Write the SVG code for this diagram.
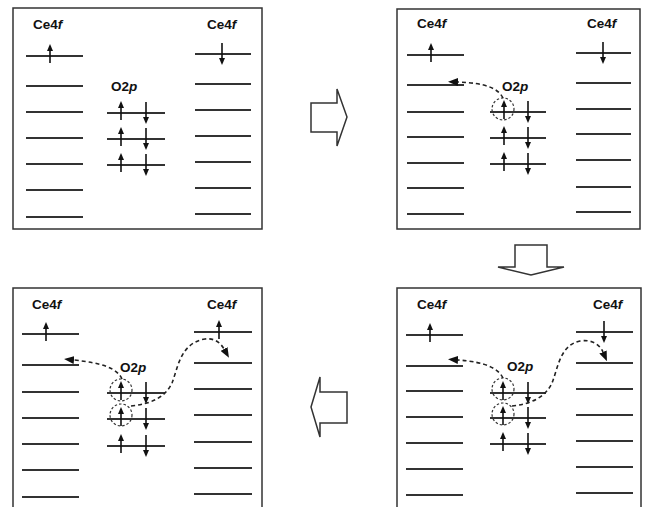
<svg xmlns="http://www.w3.org/2000/svg" xmlns:xlink="http://www.w3.org/1999/xlink" width="648" height="507" viewBox="0 0 648 507">
<style>
.box{fill:none;stroke:#333;stroke-width:1.5}
.lv{stroke:#333;stroke-width:2}
.sp line{stroke:#111;stroke-width:1.6}
.sp polygon{fill:#111}
.lbl{font-family:"Liberation Sans",Arial,sans-serif;font-size:13.5px;font-weight:bold;fill:#111}
.it{font-style:italic}
.hole{fill:none;stroke:#333;stroke-width:1.2;stroke-dasharray:2.5,2}
.tr{fill:none;stroke:#222;stroke-width:1.6;stroke-dasharray:4,3;marker-end:url(#ah)}
.blk{fill:#fff;stroke:#333;stroke-width:1.5;stroke-linejoin:miter}
</style>
<defs>
<marker id="ah" viewBox="0 0 10 8" refX="0" refY="4" markerWidth="10" markerHeight="8" markerUnits="userSpaceOnUse" orient="auto"><path d="M0,0 L10,4 L0,8 z" fill="#111"/></marker>
<g id="up" class="sp"><line x1="0" y1="7" x2="0" y2="-6"/><polygon points="0,-12 -3,-5 3,-5"/></g>
<g id="dn" class="sp"><line x1="0" y1="-11" x2="0" y2="4"/><polygon points="0,11 -3,4 3,4"/></g>
</defs>
<rect width="648" height="507" fill="#fff"/>

<g id="panel1">
<rect class="box" x="13" y="8" width="249" height="221"/>
<text class="lbl" x="33" y="29">Ce4<tspan class="it">f</tspan></text>
<text class="lbl" x="207" y="29">Ce4<tspan class="it">f</tspan></text>
<text class="lbl" x="111" y="91">O2<tspan class="it">p</tspan></text>
<g class="lv">
<line x1="26" y1="56" x2="83" y2="56"/><line x1="26" y1="86" x2="83" y2="86"/><line x1="26" y1="112" x2="83" y2="112"/><line x1="26" y1="138" x2="83" y2="138"/><line x1="26" y1="164" x2="83" y2="164"/><line x1="26" y1="190" x2="83" y2="190"/><line x1="26" y1="217" x2="83" y2="217"/>
<line x1="195" y1="54" x2="251" y2="54"/><line x1="195" y1="84" x2="251" y2="84"/><line x1="195" y1="110" x2="251" y2="110"/><line x1="195" y1="136" x2="251" y2="136"/><line x1="195" y1="162" x2="251" y2="162"/><line x1="195" y1="188" x2="251" y2="188"/><line x1="195" y1="214" x2="251" y2="214"/>
<line x1="107" y1="113" x2="165" y2="113"/><line x1="107" y1="139" x2="165" y2="139"/><line x1="107" y1="165" x2="165" y2="165"/>
</g>
<use xlink:href="#up" x="50" y="56"/>
<use xlink:href="#dn" x="222" y="54"/>
<use xlink:href="#up" x="121" y="113"/><use xlink:href="#dn" x="146" y="113"/>
<use xlink:href="#up" x="121" y="139"/><use xlink:href="#dn" x="146" y="139"/>
<use xlink:href="#up" x="121" y="165"/><use xlink:href="#dn" x="146" y="165"/>
</g>

<g id="panel2">
<rect class="box" x="397" y="9" width="243" height="220"/>
<text class="lbl" x="417" y="28">Ce4<tspan class="it">f</tspan></text>
<text class="lbl" x="587" y="28">Ce4<tspan class="it">f</tspan></text>
<text class="lbl" x="502" y="91">O2<tspan class="it">p</tspan></text>
<g class="lv">
<line x1="407" y1="55" x2="464" y2="55"/><line x1="407" y1="85" x2="464" y2="85"/><line x1="407" y1="112" x2="464" y2="112"/><line x1="407" y1="137" x2="464" y2="137"/><line x1="407" y1="163" x2="464" y2="163"/><line x1="407" y1="188" x2="464" y2="188"/><line x1="407" y1="214" x2="464" y2="214"/>
<line x1="576" y1="53" x2="631" y2="53"/><line x1="576" y1="83" x2="631" y2="83"/><line x1="576" y1="109" x2="631" y2="109"/><line x1="576" y1="134" x2="631" y2="134"/><line x1="576" y1="160" x2="631" y2="160"/><line x1="576" y1="187" x2="631" y2="187"/><line x1="576" y1="212" x2="631" y2="212"/>
<line x1="490" y1="112" x2="546" y2="112"/><line x1="490" y1="138" x2="546" y2="138"/><line x1="490" y1="164" x2="546" y2="164"/>
</g>
<use xlink:href="#up" x="431" y="55"/>
<use xlink:href="#dn" x="603" y="53"/>
<use xlink:href="#up" x="504" y="112"/><use xlink:href="#dn" x="528" y="112"/>
<use xlink:href="#up" x="504" y="138"/><use xlink:href="#dn" x="528" y="138"/>
<use xlink:href="#up" x="504" y="164"/><use xlink:href="#dn" x="528" y="164"/>
<circle class="hole" cx="503" cy="109" r="11"/>
<path class="tr" d="M503,98 C498,88 485,83 458,82"/>
</g>

<g id="panel3">
<rect class="box" x="13" y="288" width="249" height="230"/>
<text class="lbl" x="32" y="309">Ce4<tspan class="it">f</tspan></text>
<text class="lbl" x="207" y="309">Ce4<tspan class="it">f</tspan></text>
<text class="lbl" x="120" y="372">O2<tspan class="it">p</tspan></text>
<g class="lv">
<line x1="22" y1="334" x2="79" y2="334"/><line x1="22" y1="365" x2="79" y2="365"/><line x1="22" y1="392" x2="79" y2="392"/><line x1="22" y1="418" x2="79" y2="418"/><line x1="22" y1="444" x2="79" y2="444"/><line x1="22" y1="470" x2="79" y2="470"/><line x1="22" y1="497" x2="79" y2="497"/>
<line x1="194" y1="332" x2="252" y2="332"/><line x1="194" y1="363" x2="252" y2="363"/><line x1="194" y1="389" x2="252" y2="389"/><line x1="194" y1="415" x2="252" y2="415"/><line x1="194" y1="442" x2="252" y2="442"/><line x1="194" y1="468" x2="252" y2="468"/><line x1="194" y1="494" x2="252" y2="494"/>
<line x1="107" y1="393" x2="165" y2="393"/><line x1="107" y1="419" x2="165" y2="419"/><line x1="107" y1="446" x2="165" y2="446"/>
</g>
<use xlink:href="#up" x="46" y="334"/>
<use xlink:href="#up" x="219" y="332"/>
<use xlink:href="#up" x="121" y="393"/><use xlink:href="#dn" x="146" y="393"/>
<use xlink:href="#up" x="121" y="419"/><use xlink:href="#dn" x="146" y="419"/>
<use xlink:href="#up" x="121" y="446"/><use xlink:href="#dn" x="146" y="446"/>
<circle class="hole" cx="121" cy="390" r="11"/>
<circle class="hole" cx="121" cy="415" r="11"/>
<path class="tr" d="M122,379 C117,368 102,363 74,360"/>
<path class="tr" d="M131,406 C150,404 165,398 172,383 C178,368 180,343 205,339 C214,338 220,342 224,349"/>
</g>

<g id="panel4">
<rect class="box" x="397" y="288" width="244" height="230"/>
<text class="lbl" x="417" y="309">Ce4<tspan class="it">f</tspan></text>
<text class="lbl" x="593" y="309">Ce4<tspan class="it">f</tspan></text>
<text class="lbl" x="507" y="371">O2<tspan class="it">p</tspan></text>
<g class="lv">
<line x1="406" y1="335" x2="463" y2="335"/><line x1="406" y1="366" x2="463" y2="366"/><line x1="406" y1="391" x2="463" y2="391"/><line x1="406" y1="417" x2="463" y2="417"/><line x1="406" y1="443" x2="463" y2="443"/><line x1="406" y1="469" x2="463" y2="469"/><line x1="406" y1="495" x2="463" y2="495"/>
<line x1="576" y1="332" x2="633" y2="332"/><line x1="576" y1="363" x2="633" y2="363"/><line x1="576" y1="389" x2="633" y2="389"/><line x1="576" y1="415" x2="633" y2="415"/><line x1="576" y1="441" x2="633" y2="441"/><line x1="576" y1="467" x2="633" y2="467"/><line x1="576" y1="493" x2="633" y2="493"/>
<line x1="490" y1="393" x2="546" y2="393"/><line x1="490" y1="418" x2="546" y2="418"/><line x1="490" y1="444" x2="546" y2="444"/>
</g>
<use xlink:href="#up" x="430" y="335"/>
<use xlink:href="#dn" x="604" y="332"/>
<use xlink:href="#up" x="503" y="393"/><use xlink:href="#dn" x="528" y="393"/>
<use xlink:href="#up" x="503" y="418"/><use xlink:href="#dn" x="528" y="418"/>
<use xlink:href="#up" x="503" y="444"/><use xlink:href="#dn" x="528" y="444"/>
<circle class="hole" cx="503" cy="389" r="11"/>
<circle class="hole" cx="503" cy="414" r="11"/>
<path class="tr" d="M503,378 C498,368 485,362 458,360"/>
<path class="tr" d="M512,406 C530,404 545,398 552,383 C558,368 560,345 580,341 C592,339 600,345 603,352"/>
</g>

<g id="connectors">
<polygon class="blk" points="311,103 337,103 337,89 347,117 337,146 337,132 311,132"/>
<polygon class="blk" points="515,245 547,245 547,267 564,267 531,275 498,267 515,267"/>
<polygon class="blk" points="347,392 347,423 320,423 320,437 311,407 320,377 320,392"/>
</g>
</svg>
